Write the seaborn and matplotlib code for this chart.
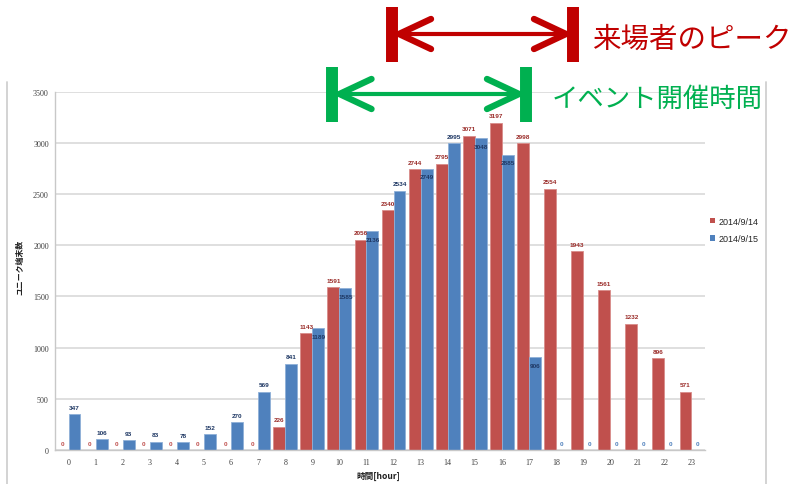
import matplotlib
matplotlib.use("Agg")
import matplotlib.pyplot as plt
import pandas as pd
import seaborn as sns

# ---------------- data ----------------
hours = list(range(24))
series_names = ["2014/9/14", "2014/9/15"]
visitors_0914 = [0, 0, 0, 0, 0, 0, 0, 0, 226, 1143, 1591, 2056, 2340, 2744,
                 2795, 3071, 3197, 2998, 2554, 1943, 1561, 1232, 896, 571]
visitors_0915 = [347, 106, 93, 83, 78, 152, 270, 569, 841, 1189, 1585, 2136,
                 2534, 2749, 2995, 3048, 2885, 906, 0, 0, 0, 0, 0, 0]
y_ticks = [0, 500, 1000, 1500, 2000, 2500, 3000, 3500]
x_label = "時間[hour]"
y_label = "ユニーク端末数"
peak_label = "来場者のピーク"
event_label = "イベント開催時間"

RED = "#C0504D"
BLUE = "#4F81BD"
RED_TXT = "#9B2D2A"
BLUE_TXT = "#1F3864"

sns.set_theme(style="white")
plt.rcParams["font.family"] = ["Noto Sans CJK JP", "DejaVu Sans"]

W, H = 797, 485
fig = plt.figure(figsize=(W / 100, H / 100), dpi=100)
fig.patch.set_facecolor("white")

left, right, top, bottom = 55, 705, 92.7, 451
ax = fig.add_axes([left / W, 1 - bottom / H, (right - left) / W, (bottom - top) / H])

df = pd.DataFrame({
    "hour": hours * 2,
    "count": visitors_0914 + visitors_0915,
    "date": [series_names[0]] * len(hours) + [series_names[1]] * len(hours),
})
sns.barplot(data=df, x="hour", y="count", hue="date", palette=[RED, BLUE],
            width=0.88, saturation=1, ax=ax, gap=0, edgecolor="none")
for cont, ec in zip(ax.containers, ["#D98C8A", "#8FB0D8"]):
    for bar in cont:
        bar.set_edgecolor(ec)
        bar.set_linewidth(0.6)

ax.set_ylim(0, 3500)
ax.set_xlim(-0.5, 23.5)
ax.set_yticks(y_ticks)
ax.set_yticklabels([str(v) for v in y_ticks])
ax.set_xlabel("")
ax.set_ylabel("")
ax.yaxis.grid(True, color="#D9D9D9", lw=1.2)
ax.xaxis.grid(False)
ax.set_axisbelow(True)
for s in ["top", "right"]:
    ax.spines[s].set_visible(False)
for s in ["left", "bottom"]:
    ax.spines[s].set_color("#C8C8C8")
    ax.spines[s].set_linewidth(1.0)
ax.tick_params(axis="both", length=0, colors="#404040")
ax.tick_params(axis="x", pad=6)
ax.tick_params(axis="y", pad=4.5)
for lab in ax.get_xticklabels() + ax.get_yticklabels():
    lab.set_family("Liberation Serif")
    lab.set_fontsize(5.8)

# data labels
for ci, (cont, vals) in enumerate(zip(ax.containers, [visitors_0914, visitors_0915])):
    for i, (bar, v) in enumerate(zip(cont, vals)):
        x = bar.get_x() + bar.get_width() / 2
        if ci == 0:
            off, col = 5, RED_TXT
            if v == 0:
                col = RED
        else:
            other = visitors_0914[i]
            if v > 0 and other > 0 and v - other < 150:
                off = -6
            else:
                off = 5
            col = BLUE_TXT if v > 0 else BLUE
        ax.annotate(str(v), xy=(x, v), xytext=(0, off), textcoords="offset points",
                    ha="center", va="center", fontsize=4.6, fontweight="bold",
                    color=col, family="Liberation Sans")

# legend
handles, labels = ax.get_legend_handles_labels()
ax.legend(handles, labels, loc="center left", bbox_to_anchor=(702 / W, 1 - 231 / H),
          bbox_transform=fig.transFigure, frameon=False,
          prop={"family": "Liberation Sans", "size": 6.5},
          handlelength=0.55, handleheight=0.55, handletextpad=0.35, labelspacing=0.9)

# axis titles
fig.text(20 / W, 1 - 267 / H, y_label, rotation=90, fontsize=5.7, fontweight="bold",
         ha="center", va="center", color="#202020")
fig.text(378 / W, 1 - 476 / H, x_label, fontsize=6.2, fontweight="bold",
         ha="center", va="center", color="#202020")

# overlay for frame + annotations (pixel coordinates)
ov = fig.add_axes([0, 0, 1, 1], zorder=5)
ov.set_xlim(0, W)
ov.set_ylim(H, 0)
ov.axis("off")
ov.patch.set_alpha(0)

ov.plot([7.5, 7.5], [83, H], color="#D0D0D0", lw=1.3)
ov.plot([766, 766], [83, H], color="#D0D0D0", lw=1.3)


def bracket_arrow(xl, xr, yc, half_h, color):
    for xx in (xl, xr):
        ov.plot([xx, xx], [yc - half_h, yc + half_h], color=color, lw=8.6,
                solid_capstyle="butt")
    ov.plot([xl + 5, xr - 5], [yc, yc], color=color, lw=3.0, solid_capstyle="butt")
    tl, tr = xl + 7, xr - 7
    ov.plot([tl + 32, tl, tl + 32], [yc - 15, yc, yc + 15], color=color, lw=4.6,
            solid_capstyle="round", solid_joinstyle="round")
    ov.plot([tr - 32, tr, tr - 32], [yc - 15, yc, yc + 15], color=color, lw=4.6,
            solid_capstyle="round", solid_joinstyle="round")


bracket_arrow(392, 573, 35, 27.5, "#C00000")
bracket_arrow(332.5, 526, 95, 27.5, "#00B050")

ov.text(592, 40, peak_label, color="#C00000", fontsize=20.5, ha="left", va="center",
        family=["Noto Sans CJK JP", "DejaVu Sans"])
ov.text(552, 99, event_label, color="#00B050", fontsize=19, ha="left", va="center",
        family=["Noto Sans CJK JP", "DejaVu Sans"])

fig.savefig("out.png", dpi=100, facecolor="white")
